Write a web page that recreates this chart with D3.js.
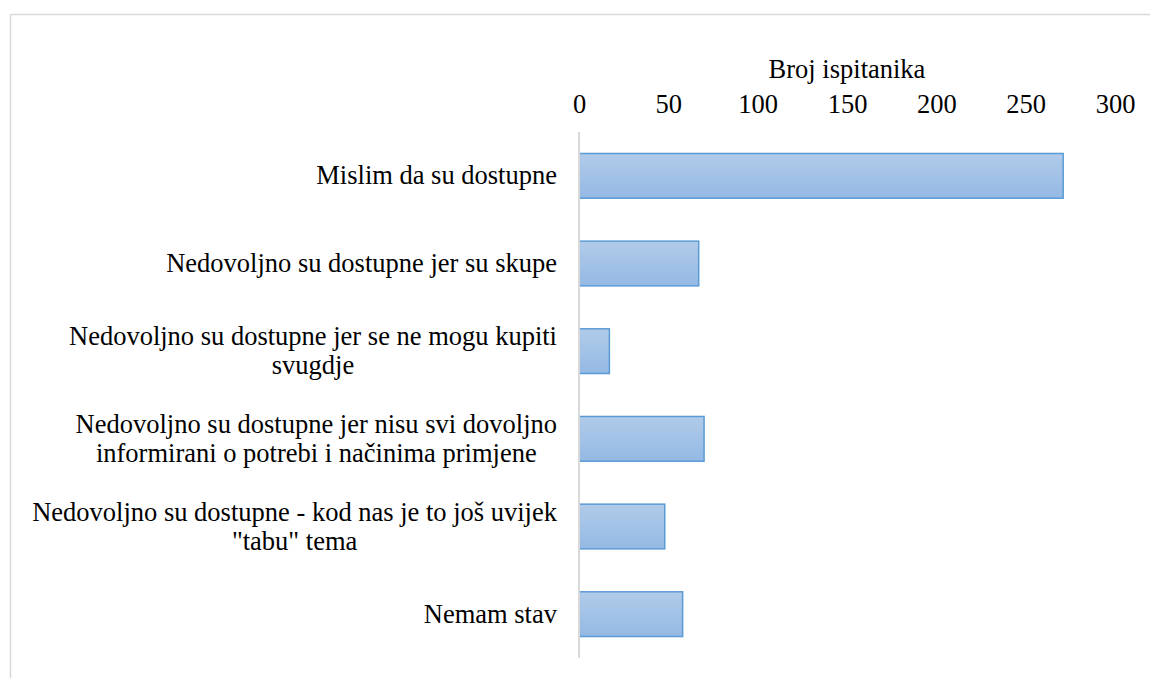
<!DOCTYPE html>
<html>
<head>
<meta charset="utf-8">
<script src="https://cdn.jsdelivr.net/npm/d3@7"></script>
<style>
  body { margin: 0; background: #fff; }
  #wrap { position: relative; width: 1150px; height: 678px; }
  #chart { position: absolute; left: 0; top: 0; }
  .cat-label {
    position: absolute;
    right: 593px;
    text-align: center;
    white-space: nowrap;
    line-height: 29px;
    color: #000;
  }
</style>
</head>
<body>
<div id="wrap">
<svg id="chart" width="1150" height="678"></svg>
</div>
<script>
// answer categories, each split into its display lines
const categories = [
  ['Mislim da su dostupne'],
  ['Nedovoljno su dostupne jer su skupe'],
  ['Nedovoljno su dostupne jer se ne mogu kupiti', 'svugdje'],
  ['Nedovoljno su dostupne jer nisu svi dovoljno', 'informirani o potrebi i načinima primjene'],
  ['Nedovoljno su dostupne - kod nas je to još uvijek', '"tabu" tema'],
  ['Nemam stav']
]
const values = [271, 67, 17, 70, 48, 58]
const ticks = [0, 50, 100, 150, 200, 250, 300]
const axisTitle = 'Broj ispitanika'

const font = '"Liberation Serif"'
const fontSize = '26.5px'

let svg = d3.select('#chart')

// outer chart frame (only top and left visible)
svg.append('path')
  .attr('d', 'M10.5,678 L10.5,14.5 L1150,14.5')
  .attr('fill', 'none')
  .attr('stroke', '#d9d9d9')
  .attr('stroke-width', 1.5)

let x = d3.scaleLinear().domain([0, 300]).range([579, 1115])
let y = d3.scaleBand()
  .domain(d3.range(categories.length))
  .range([132, 658])
  .paddingInner(0.49)
  .paddingOuter(0.245)

let defs = svg.append('defs')
let grad = defs.append('linearGradient')
  .attr('id', 'barGrad')
  .attr('x1', 0).attr('y1', 0).attr('x2', 0).attr('y2', 1)
grad.append('stop').attr('offset', '0%').attr('stop-color', '#b1cbe9')
grad.append('stop').attr('offset', '100%').attr('stop-color', '#94b9e4')

// bars
svg.selectAll('.bar')
  .data(values)
  .enter()
  .append('rect')
  .attr('class', 'bar')
  .attr('x', x(0))
  .attr('y', (d, i) => y(i))
  .attr('width', d => x(d) - x(0))
  .attr('height', y.bandwidth())
  .attr('fill', 'url(#barGrad)')
  .attr('stroke', '#5b9bd5')
  .attr('stroke-width', 1.5)

// category axis line
svg.append('line')
  .attr('x1', x(0)).attr('x2', x(0))
  .attr('y1', 132).attr('y2', 658)
  .attr('stroke', '#d9d9d9')
  .attr('stroke-width', 2)

// value axis on top
let xAxis = d3.axisTop(x).tickValues(ticks).tickSize(0).tickPadding(0)
let gx = svg.append('g')
  .attr('transform', 'translate(0,113)')
  .call(xAxis)
gx.select('.domain').remove()
gx.selectAll('text')
  .style('font-family', font)
  .style('font-size', fontSize)
  .attr('fill', '#000')

svg.append('text')
  .attr('x', (x(0) + x(300)) / 2)
  .attr('y', 78)
  .attr('text-anchor', 'middle')
  .style('font-family', font)
  .style('font-size', fontSize)
  .text(axisTitle)

// category labels: block is as wide as its longest line, lines centred inside it
let lineH = 29
d3.select('#wrap')
  .selectAll('.cat-label')
  .data(categories)
  .enter()
  .append('div')
  .attr('class', 'cat-label')
  .style('font-family', font)
  .style('font-size', fontSize)
  .style('top', (d, i) => (y(i) + y.bandwidth() / 2 - d.length * lineH / 2) + 'px')
  .html(d => d.join('<br>'))
</script>
</body>
</html>
